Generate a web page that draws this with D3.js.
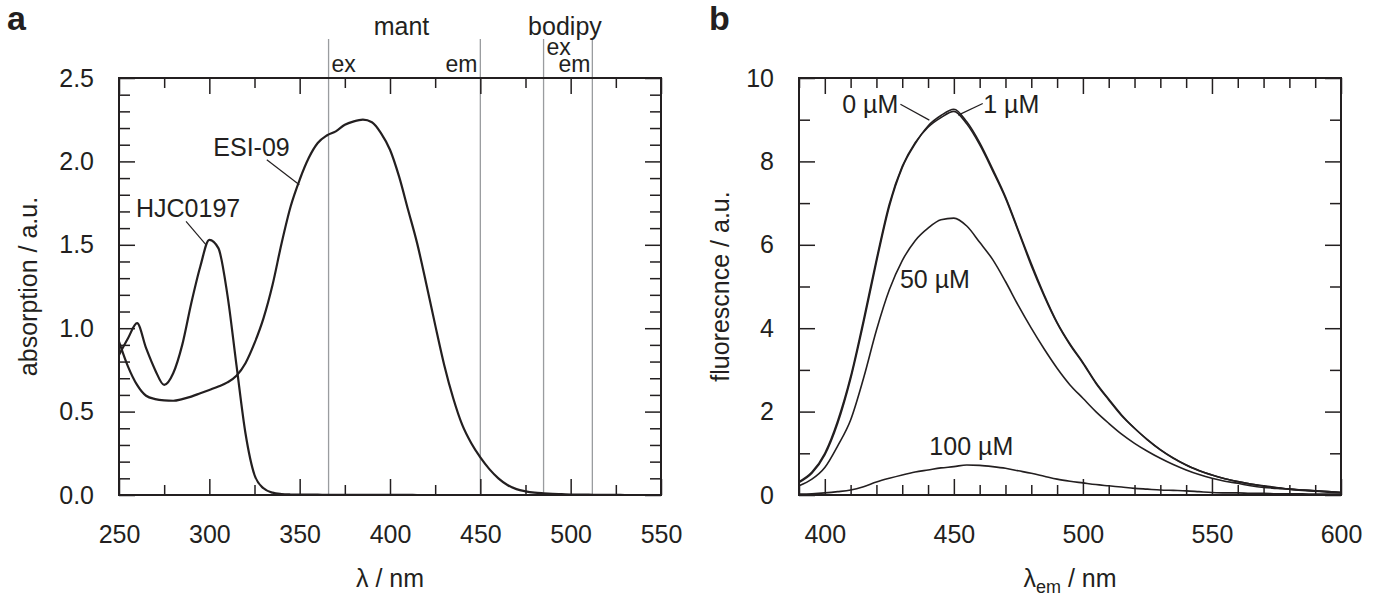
<!DOCTYPE html>
<html lang="en">
<head>
  <meta charset="UTF-8">
  <title>absorption and fluorescence</title>
  <script src="https://d3js.org/d3.v7.min.js"></script>
  <style>
    body { margin: 0; background: #fff; }
    svg { display: block; }
    text { font-family: "Liberation Sans", Arial, sans-serif; fill: #231f20; }
    .axis line { stroke: #231f20; stroke-width: 1.5; }
    .axis text { font-family: "Liberation Sans", Arial, sans-serif; font-size: 25px; fill: #231f20; }
    .curve { fill: none; stroke: #231f20; }
  </style>
</head>
<body>
  <svg id="svg" width="1379" height="597"></svg>
  <script>
    // ---- panel a: absorption spectra ----
    var absWl = [250,255,260,265,270,275,280,285,290,295,300,305,310,315,320,325,330,335,340,345,
                 350,355,360,365,370,375,380,385,390,395,400,405,410,415,420,425,430,435,440,445,
                 450,455,460,465,470,475,480,485,490,495,500,505,510,515,520,525,530,535,540,545,550]
    var esi09 = [0.92,0.77,0.66,0.595,0.575,0.567,0.565,0.575,0.59,0.61,0.63,0.65,0.675,0.715,0.79,0.91,1.06,1.26,1.51,1.73,
                 1.89,2.02,2.11,2.155,2.18,2.22,2.24,2.25,2.235,2.17,2.07,1.91,1.71,1.51,1.27,1.02,0.78,0.58,0.42,0.31,
                 0.225,0.155,0.1,0.06,0.035,0.022,0.014,0.01,0.007,0.005,0.003,0.002,0.002,0.001,0.001,0.001,0,0,0,0,0]
    var hjc0197 = [0.84,0.94,1.03,0.88,0.75,0.66,0.73,0.9,1.15,1.37,1.53,1.48,1.2,0.78,0.37,0.12,0.04,0.014,0.006,0.003,
                   0.002,0.002,0.002,0.001,0.001,0.001,0.001,0.001,0.001,0.001,0.001,0.001,0.001,0,0,0,0,0,0,0,
                   0,0,0,0,0,0,0,0,0,0,0,0,0,0,0,0,0,0,0,0,0]
    // mant / bodipy ex & em wavelengths
    var dyeLines = [366, 450, 485, 512]

    var absXMajor = [250,300,350,400,450,500,550]
    var absXMinor = [275,325,375,425,475,525]
    var absYMajor = [0,0.5,1,1.5,2,2.5]
    var absYMinor = [0.1,0.2,0.3,0.4,0.6,0.7,0.8,0.9,1.1,1.2,1.3,1.4,1.6,1.7,1.8,1.9,2.1,2.2,2.3,2.4]

    // ---- panel b: fluorescence emission spectra ----
    var emWl = [390,395,400,405,410,415,420,425,430,435,440,445,450,455,460,465,470,475,480,485,490,495,
                500,505,510,515,520,525,530,535,540,545,550,555,560,565,570,575,580,585,590,595,600]
    var fl0 = [0.32,0.55,1.0,1.78,2.84,4.2,5.65,6.98,7.88,8.45,8.82,9.05,9.2,8.9,8.4,7.78,7.12,6.32,5.5,4.77,4.12,3.6,
               3.16,2.68,2.28,1.9,1.6,1.32,1.08,0.88,0.72,0.58,0.48,0.39,0.32,0.26,0.22,0.18,0.14,0.12,0.1,0.08,0.06]
    var fl1 = [0.3,0.52,0.96,1.72,2.78,4.12,5.58,6.92,7.85,8.42,8.85,9.1,9.25,8.95,8.45,7.82,7.15,6.35,5.55,4.8,4.14,3.62,
               3.18,2.7,2.3,1.92,1.6,1.33,1.09,0.89,0.72,0.59,0.48,0.39,0.32,0.26,0.21,0.17,0.14,0.11,0.09,0.07,0.06]
    var fl50 = [0.22,0.38,0.66,1.18,1.8,2.8,3.95,4.92,5.62,6.1,6.4,6.6,6.64,6.45,6.06,5.65,5.12,4.54,4.0,3.5,3.04,2.64,
                2.32,2.0,1.72,1.46,1.24,1.05,0.88,0.73,0.6,0.49,0.4,0.33,0.28,0.22,0.18,0.16,0.14,0.12,0.1,0.08,0.06]
    var fl100 = [0.02,0.03,0.05,0.08,0.12,0.2,0.31,0.4,0.48,0.55,0.6,0.65,0.68,0.72,0.71,0.68,0.64,0.58,0.52,0.45,0.38,0.33,
                 0.29,0.25,0.22,0.19,0.16,0.14,0.12,0.11,0.1,0.08,0.06,0.05,0.05,0.04,0.04,0.03,0.03,0.03,0.02,0.02,0.02]

    var emXMajor = [400,450,500,550,600]
    var emXMinor = [390,410,420,430,440,460,470,480,490,510,520,530,540,560,570,580,590]
    var emYMajor = [0,2,4,6,8,10]
    var emYMinor = [1,3,5,7,9]

    // layout
    var plotW = 542, plotH = 417, plotTop = 78
    var svg = d3.select('#svg')

    function zip(xs, ys) {
      return xs.map(function (d, i) { return [d, ys[i]] })
    }

    // frame, inward ticks on all four sides
    function drawFrame(g, x, y, cfg) {
      g.append('g').attr('class', 'axis')
        .attr('transform', 'translate(0,' + plotH + ')')
        .call(d3.axisBottom(x).tickValues(cfg.xMinor).tickSize(-10).tickFormat(''))
      g.append('g').attr('class', 'axis')
        .attr('transform', 'translate(0,' + plotH + ')')
        .call(d3.axisBottom(x).tickValues(cfg.xMajor).tickSize(-16).tickPadding(30).tickFormat(cfg.xFmt))
      g.append('g').attr('class', 'axis')
        .call(d3.axisTop(x).tickValues(cfg.xMinor).tickSize(-10).tickFormat(''))
      g.append('g').attr('class', 'axis')
        .call(d3.axisTop(x).tickValues(cfg.xMajor).tickSize(-16).tickFormat(''))

      g.append('g').attr('class', 'axis')
        .call(d3.axisLeft(y).tickValues(cfg.yMinor).tickSize(-11).tickFormat(''))
      g.append('g').attr('class', 'axis')
        .call(d3.axisLeft(y).tickValues(cfg.yMajor).tickSize(-16).tickPadding(25).tickFormat(cfg.yFmt))
      g.append('g').attr('class', 'axis')
        .attr('transform', 'translate(' + plotW + ',0)')
        .call(d3.axisRight(y).tickValues(cfg.yMinor).tickSize(-11).tickFormat(''))
      g.append('g').attr('class', 'axis')
        .attr('transform', 'translate(' + plotW + ',0)')
        .call(d3.axisRight(y).tickValues(cfg.yMajor).tickSize(-16).tickFormat(''))

      g.selectAll('.axis .domain').remove()
      g.selectAll('.axis').attr('font-size', null).attr('font-family', null)

      g.append('rect')
        .attr('width', plotW).attr('height', plotH)
        .attr('fill', 'none').attr('stroke', '#231f20').attr('stroke-width', 2)
    }

    // ================= panel a =================
    var ga = svg.append('g').attr('transform', 'translate(119,' + plotTop + ')')
    var xa = d3.scaleLinear().domain([250, 550]).range([0, plotW])
    var ya = d3.scaleLinear().domain([0, 2.5]).range([plotH, 0])

    // dye ex/em marker lines
    ga.selectAll('.dye')
      .data(dyeLines)
      .enter()
      .append('line')
      .attr('x1', function (d) { return xa(d) }).attr('x2', function (d) { return xa(d) })
      .attr('y1', -39).attr('y2', plotH)
      .attr('stroke', '#9a9c9f').attr('stroke-width', 1.3)

    var lineA = d3.line()
      .x(function (d) { return xa(d[0]) })
      .y(function (d) { return ya(d[1]) })
      .curve(d3.curveMonotoneX)

    ga.append('path').attr('class', 'curve').attr('stroke-width', 2.2).attr('d', lineA(zip(absWl, esi09)))
    ga.append('path').attr('class', 'curve').attr('stroke-width', 2.2).attr('d', lineA(zip(absWl, hjc0197)))

    drawFrame(ga, xa, ya, {
      xMajor: absXMajor, xMinor: absXMinor, yMajor: absYMajor, yMinor: absYMinor,
      xFmt: d3.format('d'), yFmt: d3.format('.1f')
    })

    // compound labels with leader lines
    var absLabels = [
      { text: 'ESI-09', lx: 302.2, ly: 2.03, from: [331.8, 2.01], to: [349.8, 1.86] },
      { text: 'HJC0197', lx: 259.4, ly: 1.665, from: [287.1, 1.64], to: [298.2, 1.5] }
    ]
    absLabels.forEach(function (l) {
      ga.append('text').attr('x', xa(l.lx)).attr('y', ya(l.ly)).attr('font-size', 25).text(l.text)
      ga.append('line')
        .attr('x1', xa(l.from[0])).attr('y1', ya(l.from[1]))
        .attr('x2', xa(l.to[0])).attr('y2', ya(l.to[1]))
        .attr('stroke', '#231f20').attr('stroke-width', 1.2)
    })

    // dye names and ex / em tags above the frame
    ga.append('text').attr('x', (xa(dyeLines[0]) + xa(dyeLines[1])) / 2 - 3).attr('y', -43)
      .attr('text-anchor', 'middle').attr('font-size', 25).text('mant')
    ga.append('text').attr('x', (xa(dyeLines[2]) + xa(dyeLines[3])) / 2 - 3).attr('y', -43)
      .attr('text-anchor', 'middle').attr('font-size', 25).text('bodipy')
    ga.append('text').attr('x', xa(dyeLines[0]) + 3).attr('y', -6).attr('font-size', 23).text('ex')
    ga.append('text').attr('x', xa(dyeLines[1]) - 3).attr('y', -6).attr('text-anchor', 'end').attr('font-size', 23).text('em')
    ga.append('text').attr('x', xa(dyeLines[2]) + 3).attr('y', -23).attr('font-size', 23).text('ex')
    ga.append('text').attr('x', xa(dyeLines[3]) - 2).attr('y', -6).attr('text-anchor', 'end').attr('font-size', 23).text('em')

    // axis titles
    ga.append('text')
      .attr('transform', 'rotate(-90)')
      .attr('x', -plotH / 2).attr('y', -82)
      .attr('text-anchor', 'middle').attr('font-size', 25)
      .text('absorption / a.u.')
    ga.append('text')
      .attr('x', plotW / 2).attr('y', plotH + 92)
      .attr('text-anchor', 'middle').attr('font-size', 25)
      .text('λ / nm')

    svg.append('text').attr('x', 7).attr('y', 30)
      .attr('font-size', 34).attr('font-weight', 'bold').text('a')

    // ================= panel b =================
    var gb = svg.append('g').attr('transform', 'translate(799,' + plotTop + ')')
    var xb = d3.scaleLinear().domain([390, 600]).range([0, plotW])
    var yb = d3.scaleLinear().domain([0, 10]).range([plotH, 0])

    var lineB = d3.line()
      .x(function (d) { return xb(d[0]) })
      .y(function (d) { return yb(d[1]) })
      .curve(d3.curveMonotoneX)

    var emSeries = [fl0, fl1, fl50, fl100]
    gb.selectAll('.em')
      .data(emSeries)
      .enter()
      .append('path')
      .attr('class', 'curve')
      .attr('stroke-width', 1.6)
      .attr('d', function (d) { return lineB(zip(emWl, d)) })

    drawFrame(gb, xb, yb, {
      xMajor: emXMajor, xMinor: emXMinor, yMajor: emYMajor, yMinor: emYMinor,
      xFmt: d3.format('d'), yFmt: d3.format('d')
    })

    var emLabels = [
      { text: '0 µM', lx: 428.5, ly: 9.15, anchor: 'end', from: [429.3, 9.37], to: [440.5, 8.99] },
      { text: '1 µM', lx: 461.4, ly: 9.15, anchor: 'start', from: [461.2, 9.39], to: [451.7, 9.11] },
      { text: '50 µM', lx: 429.1, ly: 4.96, anchor: 'start' },
      { text: '100 µM', lx: 440.5, ly: 0.96, anchor: 'start' }
    ]
    emLabels.forEach(function (l) {
      gb.append('text').attr('x', xb(l.lx)).attr('y', yb(l.ly))
        .attr('text-anchor', l.anchor).attr('font-size', 25).text(l.text)
      if (l.from) {
        gb.append('line')
          .attr('x1', xb(l.from[0])).attr('y1', yb(l.from[1]))
          .attr('x2', xb(l.to[0])).attr('y2', yb(l.to[1]))
          .attr('stroke', '#231f20').attr('stroke-width', 1.2)
      }
    })

    gb.append('text')
      .attr('transform', 'rotate(-90)')
      .attr('x', -plotH / 2).attr('y', -70)
      .attr('text-anchor', 'middle').attr('font-size', 25)
      .text('fluorescnce / a.u.')
    var tb = gb.append('text')
      .attr('x', plotW / 2).attr('y', plotH + 92)
      .attr('text-anchor', 'middle').attr('font-size', 25)
    tb.append('tspan').text('λ')
    tb.append('tspan').attr('font-size', 18).attr('dy', 6).text('em')
    tb.append('tspan').attr('dy', -6).text(' / nm')

    svg.append('text').attr('x', 709).attr('y', 30)
      .attr('font-size', 34).attr('font-weight', 'bold').text('b')
  </script>
</body>
</html>
